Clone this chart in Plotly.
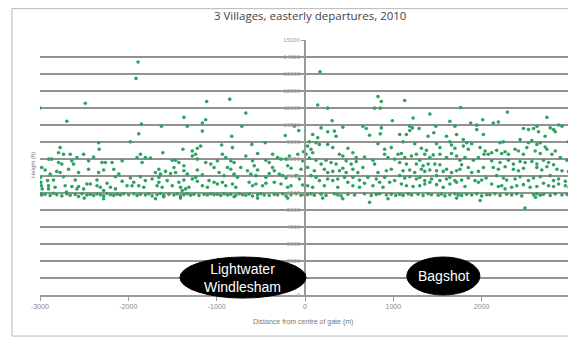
import plotly.graph_objects as go

# Points: (distance from centre of gate in m, height in ft)
seg_w3 = [(-3000,11000),(-2487,11280),(-2696,10220),(-2336,8960),(-2330,8570),(-2772,8670),(-2790,8370),(-2900,7990),(-2866,7990),(-2734,8280),(-2658,8280),(-2582,8090),(-2506,8280),(-2393,8120),(-2260,7790),(-2298,7790),(-2184,7790),(-2070,7890),(-2450,7890),(-2640,7890),(-2620,7700),(-2753,7700),(-2790,7790),(-2980,7500),(-2942,7350),(-2810,7270),(-2772,7210),(-2885,7110),(-2677,7400),(-2563,7210),(-2450,7400),(-2336,7210),(-2279,7350),(-2165,7400),(-2108,7110),(-2995,6920),(-2914,6730),(-2847,6760),(-2734,6960),(-2601,6760),(-2469,6530),(-2430,6530),(-2355,6760),(-2355,6430),(-2241,6570),(-2203,6340),(-2146,6960),(-2070,6690),(-2990,6630),(-2985,6430),(-2975,6240),(-2904,6430),(-2904,6240),(-2829,6340),(-2715,6430),(-2639,6380),(-2582,6240),(-2563,6380),(-2506,6240),(-2317,6340),(-2279,6140),(-2146,6240),
          (-2990,5950),(-2980,5880),(-2942,5920),(-2885,5850),(-2847,5980),(-2810,5900),(-2753,5830),(-2696,5950),(-2658,5870),(-2601,5910),(-2563,5800),(-2525,5960),(-2469,5880),(-2431,5920),(-2393,5850),(-2355,5940),(-2317,5890),(-2279,5830),(-2241,5970),(-2203,5900),(-2165,5860),(-2127,5930),(-2090,5880),(-2052,5950),(-2279,5660),(-2700,6050),(-2500,5700)]
seg_w2 = [(-1890,13710),(-1913,12740),(-1113,11380),(-1852,10060),(-1625,9930),(-1371,10450),(-1333,9930),(-1162,10120),(-1124,10310),(-1162,9640),(-1882,9480),(-1977,9010),(-1610,8370),(-1382,8570),(-1276,8470),(-1238,8280),(-1219,8630),(-1181,8760),(-1276,8180),(-1219,7990),(-1863,8280),(-1844,7790),(-1901,8090),(-1807,8090),(-1750,8050),(-1503,7930),(-1465,7930),(-1428,7790),(-1484,7500),(-1371,7600),(-1124,7790),(-1067,7700),(-1030,7500),(-1655,7400),(-1693,7210),(-1636,7110),(-1579,7270),(-1522,7150),(-1465,7210),(-1371,7310),(-1333,7110),(-1219,7350),(-1162,7070),(-1977,6880),(-1939,6630),(-1863,6960),(-1807,6730),(-1731,6820),(-1655,6920),(-1655,6630),(-1560,6730),(-1428,6630),(-1371,6760),(-1276,6820),(-1238,6920),(-1219,6690),(-1086,6730),(-1030,6630),(-2015,6430),(-1958,6430),(-1882,6430),(-1826,6340),(-1674,6430),(-1617,6340),(-1503,6430),(-1409,6340),(-1390,6140),(-1352,6240),(-1314,6340),(-1162,6430),(-1105,6340),
          (-1996,5900),(-1939,5960),(-1901,5850),(-1863,5920),(-1807,5880),(-1769,5950),(-1731,5830),(-1674,5900),(-1636,5970),(-1598,5860),(-1541,5920),(-1484,5880),(-1447,5950),(-1409,5830),(-1371,5900),(-1333,5960),(-1295,5870),(-1257,5930),(-1200,5850),(-1143,5910),(-1105,5880),(-1067,5950),(-1030,5900),(-1693,5660),(-1409,5700),(-1600,5780)]
seg_w1 = [(-852,11520),(-670,10700),(-715,9930),(-829,9340),(-223,9380),(-120,9930),(-71,9670),(-943,8820),(-821,8670),(-602,8860),(-450,8960),(-537,8320),(-367,8280),(-935,8280),(-897,8090),(-670,8180),(-992,7890),(-840,7890),(-803,7790),(-594,7890),(-443,7930),(-405,7790),(-310,8090),(-272,7990),(-215,7990),(-177,8180),(-82,8280),(-18,8430),(-878,7500),(-840,7400),(-727,7500),(-651,7310),(-575,7600),(-537,7350),(-367,7500),(-348,7310),(-196,7600),(-158,7460),(-45,7400),(-973,7210),(-916,7020),(-803,7110),(-765,6920),(-613,7110),(-556,7020),(-443,6920),(-405,7150),(-291,7110),(-253,7020),(-215,6880),(-101,7020),(-63,6820),(-992,6530),(-935,6630),(-897,6430),(-821,6530),(-783,6340),(-632,6630),(-594,6430),(-556,6530),(-480,6430),(-443,6570),(-348,6630),(-272,6530),(-196,6340),(-158,6430),(-26,6470),(-26,7890),
          (-992,5920),(-954,5860),(-916,5950),(-878,5880),(-840,5930),(-784,5850),(-746,5960),(-708,5900),(-670,5870),(-632,5940),(-594,5820),(-537,5900),(-499,5960),(-461,5880),(-405,5850),(-348,5920),(-310,5880),(-253,5950),(-215,5830),(-158,5900),(-101,5960),(-45,5870),(-7,5920),(-196,5700),(-537,5700),(-803,5780)]
seg_e1 = [(170,13130),(826,11670),(864,11380),(144,11180),(257,10990),(788,10990),(852,10990),(989,10250),(307,10250),(182,9830),(428,9870),(655,9930),(693,9790),(731,9400),(864,9830),(852,9480),(257,9600),(333,9640),(352,9340),(87,9440),(144,9250),(49,9010),(125,8960),(163,8860),(30,8760),(68,8570),(257,8860),(314,8670),(826,8900),(901,8570),(977,8670),(11,8280),(49,8050),(87,8370),(390,8280),(428,8180),(485,8630),(542,8370),(580,8090),(674,8120),(769,7930),(788,7700),(901,8280),(939,8090),(1015,7990),(125,7930),(182,7700),(238,7930),(295,7790),(352,7700),(466,7890),(523,7700),(580,7850),(30,7500),(106,7310),(219,7400),(257,7210),(314,7270),(390,7310),(428,7460),(466,7210),(542,7400),(598,7210),(655,7500),(826,7210),(921,7310),(977,7400),(68,7020),(125,6920),(163,6730),(257,6820),(314,6730),(371,6820),(447,6920),(485,6630),(542,6920),(617,6760),(674,6570),(712,6920),(807,6820),(845,6630),(901,6920),(958,6630),(1015,6730),(30,6430),(87,6340),(219,6430),(371,6340),(542,6430),(617,6340),(769,6430),(883,6340),
          (30,5900),(68,5950),(106,5870),(182,5930),(238,5860),(333,5950),(371,5890),(409,5830),(485,5920),(561,5880),(674,5950),(750,5860),(807,5910),(845,5960),(921,5880),(977,5920),(1027,5850),(200,5700),(428,5660),(731,5450),(939,5660)]
seg_e2 = [(1129,11440),(1762,11030),(1413,10640),(1224,10410),(1640,10220),(1697,9930),(1875,10120),(1944,9990),(2012,10310),(1186,9930),(1216,9830),(1292,9790),(1072,9440),(1148,9440),(1186,9670),(1394,9340),(1458,9540),(1481,9930),(1602,9340),(1716,9440),(1792,9150),(1830,8960),(1944,9730),(2020,9440),(1110,9010),(1242,8900),(1318,8630),(1375,8510),(1489,8900),(1527,8670),(1640,9010),(1659,8820),(1697,8630),(1792,8760),(1849,8570),(1887,8900),(1982,8670),(2039,8470),(1053,8280),(1091,8320),(1129,8090),(1205,8180),(1261,8280),(1299,7930),(1356,8280),(1413,8090),(1451,8240),(1527,8280),(1602,8090),(1659,8320),(1716,8180),(1754,7930),(1811,8090),(1906,7930),(1963,8090),(2027,8280),(1072,7790),(1148,7700),(1261,7700),(1337,7600),(1394,7700),(1470,7700),(1527,7660),(1773,7660),(1849,7500),(2020,7500),(1110,7310),(1186,7350),(1242,7210),(1318,7400),(1356,7270),(1413,7350),(1489,7310),(1565,7270),(1602,7400),(1659,7210),(1716,7310),(1754,7400),(1887,7210),(1963,7270),(1072,7020),(1129,6880),(1186,6960),(1261,6820),(1299,6920),(1356,6730),(1432,6820),(1489,7020),(1527,6730),(1602,6820),(1640,6920),(1697,6730),(1773,6760),(1849,6880),(1925,6730),(2000,6760),(2050,6880),(1091,6530),(1148,6430),(1224,6380),(1299,6430),(1356,6530),(1413,6630),(1489,6490),(1565,6340),(1640,6530),(1716,6630),(1811,6380),(1963,6630),
          (1072,5920),(1110,5860),(1167,5950),(1205,5880),(1280,5930),(1337,5850),(1394,5960),(1432,5900),(1508,5870),(1546,5940),(1584,5830),(1640,5900),(1697,5960),(1735,5880),(1773,5850),(1830,5920),(1887,5880),(1944,5950),(2000,5830),(2057,5900),(1982,5560),(1716,5700)]
seg_e3 = [(2291,10760),(2738,10450),(2132,10120),(2189,10180),(2473,9790),(2530,9730),(2587,9790),(2625,9930),(2643,9600),(2776,9830),(2814,9730),(2833,9600),(2871,10000),(2909,9930),(2719,9340),(2208,8960),(2246,9010),(2530,8960),(2568,9090),(2435,9150),(2625,8860),(2663,8960),(2719,8710),(2984,9010),(2995,8370),(2075,8280),(2113,8370),(2170,8510),(2227,8320),(2265,8430),(2303,8280),(2378,8570),(2416,8470),(2473,8280),(2511,8670),(2606,8470),(2663,8320),(2738,8570),(2795,8280),(2833,8470),(2890,8090),(2966,7930),(2990,7990),(2113,7890),(2208,7790),(2303,7930),(2359,7700),(2435,7850),(2492,7790),(2568,7850),(2625,7700),(2700,7930),(2757,7790),(2814,7660),(2132,7500),(2189,7400),(2265,7540),(2359,7400),(2416,7310),(2473,7460),(2625,7500),(2681,7350),(2738,7540),(2852,7400),(2909,7310),(2984,7270),(2170,7020),(2246,6880),(2283,6760),(2378,6820),(2435,6960),(2530,6730),(2587,6880),(2663,6960),(2776,7020),(2814,6730),(2871,6820),(2947,6690),(2113,6530),(2189,6380),(2227,6430),(2265,6240),(2340,6340),(2397,6430),(2473,6490),(2549,6340),(2625,6380),(2700,6570),(2757,6430),(2814,6380),(2871,6530),(2947,6430),(2990,6340),
          (2094,5900),(2151,5950),(2208,5860),(2283,5930),(2340,5880),(2397,5950),(2454,5830),(2587,5900),(2625,5960),(2663,5870),(2700,5920),(2776,5850),(2833,5940),(2909,5880),(2966,5920),(2995,5860),(2490,5120),(2610,5750)]

x_ticks = [-3000, -2000, -1000, 0, 1000, 2000, 3000]
y_ticks = list(range(0, 15001, 1000))

points = seg_w3 + seg_w2 + seg_w1 + seg_e1 + seg_e2 + seg_e3
dist_m = [p[0] for p in points]
height_ft = [p[1] for p in points]

fig = go.Figure()
fig.add_trace(go.Scatter(
    x=dist_m, y=height_ft, mode="markers",
    marker=dict(size=3.6, color="#2fa262", line=dict(width=0)),
    showlegend=False))

fig.update_layout(
    width=568, height=330,
    margin=dict(l=32, r=6, t=32, b=43),
    paper_bgcolor="white", plot_bgcolor="white",
    font=dict(family="Liberation Sans, Arial, sans-serif"),
    title=dict(text="3 Villages, easterly departures, 2010", x=0.532, y=0.977,
               xanchor="center", yanchor="middle",
               font=dict(size=11.5, color="#444444", family="Open Sans, Liberation Sans, sans-serif")),
    xaxis=dict(range=[-3000, 3000], tickvals=x_ticks, ticktext=[str(v) for v in x_ticks],
               showgrid=False, zeroline=False, showline=True, linecolor="#9a9a9a", linewidth=1.5,
               ticks="outside", ticklen=4, tickcolor="#9a9a9a",
               tickfont=dict(size=7, color="#8a8a8a")),
    yaxis=dict(range=[0, 15000], tickvals=y_ticks, ticktext=[str(v) for v in y_ticks],
               showgrid=True, gridcolor="#929292", gridwidth=1.5,
               zeroline=False, showline=True, linecolor="#9a9a9a", linewidth=1.5,
               anchor="free", position=0.5,
               ticks="outside", ticklen=3, tickcolor="#9a9a9a",
               tickfont=dict(size=6, color="#a0a0a0")),
    shapes=[
        dict(type="rect", xref="paper", yref="paper", x0=-0.053, x1=1.05, y0=-0.161, y1=1.123,
             line=dict(color="#b8b8b8", width=1), layer="below"),
        dict(type="circle", xref="paper", yref="paper", x0=0.264, x1=0.502, y0=-0.012, y1=0.149,
             fillcolor="black", line=dict(color="black", width=1), layer="above"),
        dict(type="circle", xref="paper", yref="paper", x0=0.692, x1=0.830, y0=0.0, y1=0.149,
             fillcolor="black", line=dict(color="black", width=1), layer="above"),
    ],
    annotations=[
        dict(text="Lightwater<br>Windlesham", xref="paper", yref="paper", x=0.383, y=0.068,
             showarrow=False, font=dict(size=14, color="white", family="Liberation Sans, Arial"),
             xanchor="center", yanchor="middle"),
        dict(text="Bagshot", xref="paper", yref="paper", x=0.761, y=0.075,
             showarrow=False, font=dict(size=14, color="white", family="Liberation Sans, Arial"),
             xanchor="center", yanchor="middle"),
        dict(text="Distance from centre of gate (m)", xref="paper", yref="paper", x=0.496, y=-0.106,
             showarrow=False, font=dict(size=7, color="#777777"), xanchor="center", yanchor="middle"),
        dict(text="Height (ft)", xref="paper", yref="paper", x=-0.013, y=0.51, textangle=-90,
             showarrow=False, font=dict(size=6, color="#777777"), xanchor="center", yanchor="middle"),
    ],
)

fig.write_html("out.html")
